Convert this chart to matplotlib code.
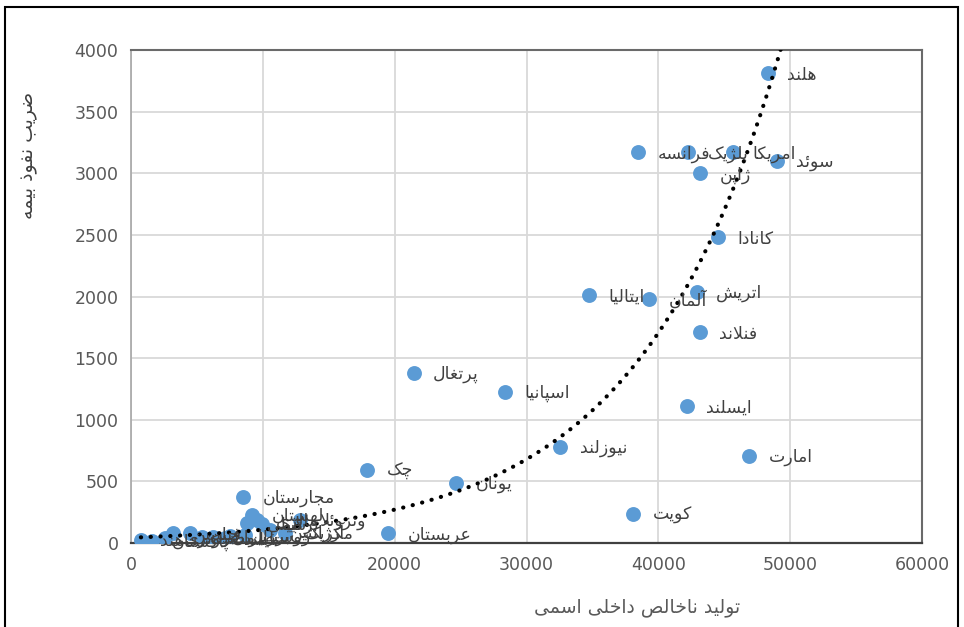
import numpy as np
import matplotlib
matplotlib.use("Agg")
import matplotlib.pyplot as plt
from matplotlib.patches import Rectangle

# ---------------- data ----------------
countries = ["هلند", "فرانسه", "بلژیک", "امریکا", "سوئد", "ژاپن", "کانادا",
             "اتریش", "آلمان", "ایتالیا", "فنلاند", "ایسلند", "امارت",
             "نیوزلند", "پرتغال", "اسپانیا", "چک", "یونان", "کویت", "عربستان",
             "هند", "پاکستان", "اندونزی", "فیلیپین", "چین", "مصر", "ایران",
             "تایلند", "مجارستان", "لهستان", "مالزی", "شیلی", "ترکیه",
             "ونزوئلا", "روسیه", "برزیل", "آرژانتین", "مکزیک"]
gdp = [48300, 38450, 42250, 45650, 49000, 43150, 44500,
       42900, 39300, 34750, 43150, 42150, 46900,
       32550, 21450, 28350, 17900, 24650, 38100, 19500,
       750, 1600, 2600, 3200, 4500, 5400, 6200,
       7100, 8500, 9200, 9550, 8800, 9950,
       12800, 8650, 7500, 10550, 11700]
insurance = [3810, 3170, 3170, 3170, 3100, 3000, 2480,
             2040, 1980, 2010, 1710, 1110, 705,
             780, 1380, 1225, 592, 487, 235, 80,
             24, 16, 40, 80, 80, 48, 48,
             40, 373, 227, 187, 160, 152,
             187, 64, 56, 105, 80]

# exponential trend line y = A * exp(B * x), coefficients
TREND_A = 43.0
TREND_B = 9.2e-5

x_ticks = [0, 10000, 20000, 30000, 40000, 50000, 60000]
y_ticks = [0, 500, 1000, 1500, 2000, 2500, 3000, 3500, 4000]
x_title = "تولید ناخالص داخلی اسمی"
y_title = "ضریب نفوذ بیمه"

# ---------------- minimal Persian shaping (matplotlib has no bidi) -------
FORMS = {
    'ا': (0xFE8D, 0xFE8E, None, None), 'آ': (0xFE81, 0xFE82, None, None),
    'ب': (0xFE8F, 0xFE90, 0xFE91, 0xFE92), 'پ': (0xFB56, 0xFB57, 0xFB58, 0xFB59),
    'ت': (0xFE95, 0xFE96, 0xFE97, 0xFE98), 'ث': (0xFE99, 0xFE9A, 0xFE9B, 0xFE9C),
    'ج': (0xFE9D, 0xFE9E, 0xFE9F, 0xFEA0), 'چ': (0xFB7A, 0xFB7B, 0xFB7C, 0xFB7D),
    'ح': (0xFEA1, 0xFEA2, 0xFEA3, 0xFEA4), 'خ': (0xFEA5, 0xFEA6, 0xFEA7, 0xFEA8),
    'د': (0xFEA9, 0xFEAA, None, None), 'ذ': (0xFEAB, 0xFEAC, None, None),
    'ر': (0xFEAD, 0xFEAE, None, None), 'ز': (0xFEAF, 0xFEB0, None, None),
    'ژ': (0xFB8A, 0xFB8B, None, None),
    'س': (0xFEB1, 0xFEB2, 0xFEB3, 0xFEB4), 'ش': (0xFEB5, 0xFEB6, 0xFEB7, 0xFEB8),
    'ص': (0xFEB9, 0xFEBA, 0xFEBB, 0xFEBC), 'ض': (0xFEBD, 0xFEBE, 0xFEBF, 0xFEC0),
    'ط': (0xFEC1, 0xFEC2, 0xFEC3, 0xFEC4), 'ظ': (0xFEC5, 0xFEC6, 0xFEC7, 0xFEC8),
    'ع': (0xFEC9, 0xFECA, 0xFECB, 0xFECC), 'غ': (0xFECD, 0xFECE, 0xFECF, 0xFED0),
    'ف': (0xFED1, 0xFED2, 0xFED3, 0xFED4), 'ق': (0xFED5, 0xFED6, 0xFED7, 0xFED8),
    'ک': (0xFB8E, 0xFB8F, 0xFB90, 0xFB91), 'گ': (0xFB92, 0xFB93, 0xFB94, 0xFB95),
    'ل': (0xFEDD, 0xFEDE, 0xFEDF, 0xFEE0), 'م': (0xFEE1, 0xFEE2, 0xFEE3, 0xFEE4),
    'ن': (0xFEE5, 0xFEE6, 0xFEE7, 0xFEE8), 'و': (0xFEED, 0xFEEE, None, None),
    'ه': (0xFEE9, 0xFEEA, 0xFEEB, 0xFEEC), 'ی': (0xFBFC, 0xFBFD, 0xFBFE, 0xFBFF),
    'ئ': (0xFE89, 0xFE8A, 0xFE8B, 0xFE8C),
}
LAM_ALEF = {'ا': (0xFEFB, 0xFEFC), 'آ': (0xFEF5, 0xFEF6)}


def dual(c):
    return c in FORMS and FORMS[c][2] is not None


def shape(text):
    out = []
    chars = list(text)
    i = 0
    n = len(chars)
    while i < n:
        c = chars[i]
        prev = chars[i - 1] if i > 0 else None
        join_prev = prev is not None and dual(prev) and c in FORMS
        if c == 'ل' and i + 1 < n and chars[i + 1] in LAM_ALEF:
            iso, fin = LAM_ALEF[chars[i + 1]]
            out.append(chr(fin if join_prev else iso))
            i += 2
            continue
        if c not in FORMS:
            out.append(c)
            i += 1
            continue
        nxt = chars[i + 1] if i + 1 < n else None
        join_next = dual(c) and nxt is not None and nxt in FORMS
        iso, fin, ini, med = FORMS[c]
        if join_prev and join_next:
            cp = med
        elif join_prev:
            cp = fin
        elif join_next:
            cp = ini
        else:
            cp = iso
        out.append(chr(cp))
        i += 1
    return "".join(reversed(out))


# ---------------- figure ----------------
plt.rcParams['font.family'] = ['DejaVu Sans']
fig = plt.figure(figsize=(9.64, 6.27), dpi=100)
ax = fig.add_axes([131 / 964, 1 - 543 / 627, (922 - 131) / 964, (543 - 50) / 627])

ax.set_xlim(0, 60000)
ax.set_ylim(0, 4000)
ax.set_xticks(x_ticks)
ax.set_yticks(y_ticks)
ax.set_xticklabels([str(v) for v in x_ticks])
ax.set_yticklabels([str(v) for v in y_ticks])
ax.tick_params(length=0, labelsize=12.5, colors='#595959', pad=9)
ax.grid(True, color='#D9D9D9', linewidth=1.3)
ax.set_axisbelow(True)
for side in ['top', 'right']:
    ax.spines[side].set_color('#6a6a6a')
    ax.spines[side].set_linewidth(1.5)
ax.spines['left'].set_color('#A6A6A6')
ax.spines['left'].set_linewidth(1.2)
ax.spines['bottom'].set_color('#404040')
ax.spines['bottom'].set_linewidth(1.6)

# points
ax.scatter(gdp, insurance, s=115, color='#5B9BD5', zorder=3, linewidths=0)

# trend line
xt = np.linspace(min(gdp), max(gdp) + 400, 400)
yt = TREND_A * np.exp(TREND_B * xt)
ax.plot(xt, yt, color='black', linewidth=3.0, linestyle=(0, (0.05, 2.3)),
        dash_capstyle='round', zorder=4, clip_on=True)

# labels
for name, xv, yv in zip(countries, gdp, insurance):
    ax.annotate(shape(name), (xv, yv), xytext=(14, -1), textcoords='offset points',
                ha='left', va='center', fontsize=12.5, color='#404040', zorder=5)

# axis titles
ax.set_xlabel(shape(x_title), fontsize=13.5, color='#595959')
ax.xaxis.set_label_coords(0.64, -0.112)
ax.set_ylabel(shape(y_title), fontsize=13.5, color='#404040')
ax.yaxis.set_label_coords(-0.118, 0.787)

# outer frame
fig.patches.append(Rectangle((5 / 964, -0.01), 953 / 964, 1 - 7 / 627 + 0.01,
                             transform=fig.transFigure, fill=False,
                             edgecolor='black', linewidth=1.5))

fig.savefig("out.png", dpi=100)
